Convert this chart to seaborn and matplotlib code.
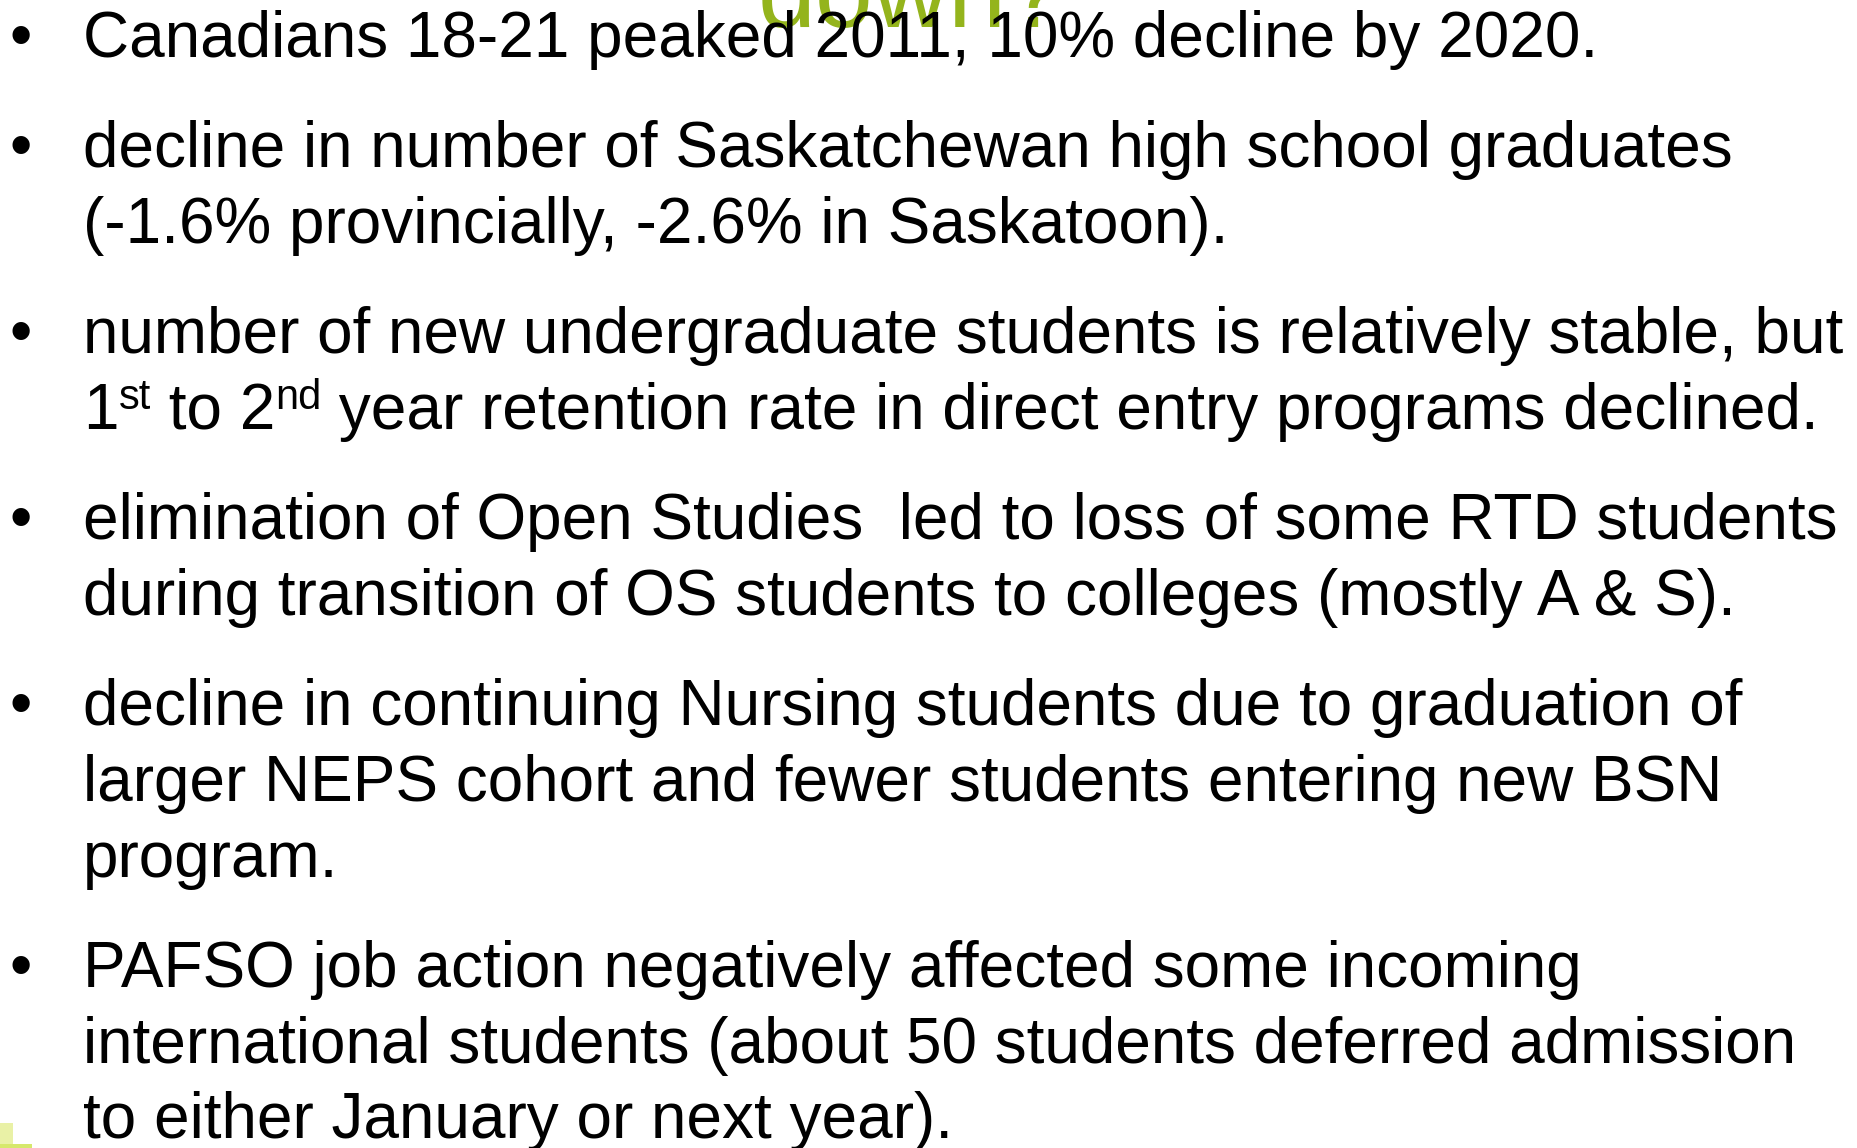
import matplotlib
matplotlib.use("Agg")
import matplotlib.pyplot as plt
import seaborn as sns
from matplotlib.patches import Rectangle

# slide content
title_text = "down?"
bullets = [
    ["Canadians 18-21 peaked 2011, 10% decline by 2020."],
    ["decline in number of Saskatchewan high school graduates",
     "(-1.6% provincially, -2.6% in Saskatoon)."],
    ["number of new undergraduate students is relatively stable, but",
     [("1", False), ("st", True), (" to 2", False), ("nd", True),
      (" year retention rate in direct entry programs declined.", False)]],
    ["elimination of Open Studies  led to loss of some RTD students",
     "during transition of OS students to colleges (mostly A & S)."],
    ["decline in continuing Nursing students due to graduation of",
     "larger NEPS cohort and fewer students entering new BSN",
     "program."],
    ["PAFSO job action negatively affected some incoming",
     "international students (about 50 students deferred admission",
     "to either January or next year)."],
]

W, H = 1858, 1148
sns.set_theme(style="white")
plt.rcParams["font.family"] = ["Liberation Sans", "DejaVu Sans"]

fig = plt.figure(figsize=(W / 100, H / 100), dpi=100)
ax = fig.add_axes([0, 0, 1, 1])
ax.set_xlim(0, W)
ax.set_ylim(H, 0)
ax.axis("off")
renderer = fig.canvas.get_renderer()

green = "#94b41c"
fs = 46
fs_sup = 30
sup_raise = 20

# title peeking out from the top edge
ax.text(758, 27, title_text, fontsize=75, color=green, va="baseline", ha="left")

# decoration bottom-left
ax.add_patch(Rectangle((0, 1123), 13, 25, color="#e9f1a6", lw=0))
ax.add_patch(Rectangle((0, 1144), 32, 4, color="#d6e86c", lw=0))


def draw_line(x, y, line):
    if isinstance(line, str):
        ax.text(x, y, line, fontsize=fs, ha="left", va="baseline", color="black")
        return
    # pieces with superscripts
    for piece, sup in line:
        t = ax.text(x, y - (sup_raise if sup else 0), piece,
                    fontsize=fs_sup if sup else fs,
                    ha="left", va="baseline", color="black")
        x += t.get_window_extent(renderer).width


y = 57
line_gap = 75.5
para_gap = 110.5
for lines in bullets:
    ax.text(21, y, "\u2022", fontsize=fs, ha="center", va="baseline", color="black")
    for i, line in enumerate(lines):
        draw_line(83, y + i * line_gap, line)
    y += (len(lines) - 1) * line_gap + para_gap

fig.savefig("out.png", dpi=100)
